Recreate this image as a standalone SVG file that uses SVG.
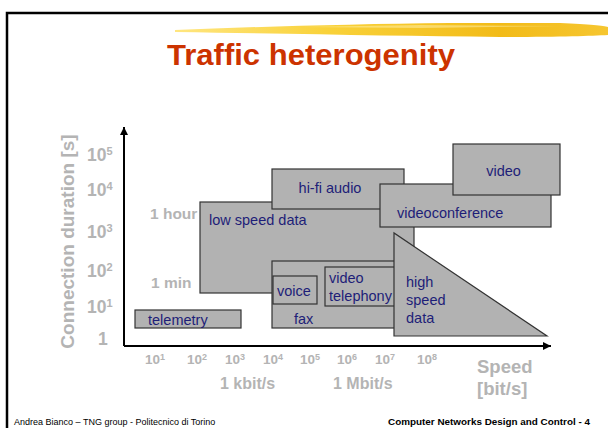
<svg xmlns="http://www.w3.org/2000/svg" width="608" height="429" viewBox="0 0 608 429">
<style>
.box{fill:#b2b2b2;stroke:#333;stroke-width:1.2}
.t{font-family:"Liberation Sans",Arial,sans-serif;font-size:14.5px;fill:#1e1e78}
.g{font-family:"Liberation Sans",Arial,sans-serif;font-weight:bold;fill:#b4b4b4}
.ax{stroke:#000;stroke-width:2;fill:none}
</style>
<defs>
<linearGradient id="brush" x1="0" y1="0" x2="1" y2="0">
<stop offset="0" stop-color="#ffe680"/>
<stop offset="0.35" stop-color="#f9d23a"/>
<stop offset="0.75" stop-color="#f2bb18"/>
<stop offset="1" stop-color="#f6c630"/>
</linearGradient>
<marker id="arr" viewBox="0 0 10 10" refX="10" refY="5" markerWidth="4" markerHeight="4" orient="auto" markerUnits="strokeWidth">
<path d="M0,0 L10,5 L0,10 Z" fill="#000"/>
</marker>
</defs>
<rect width="608" height="429" fill="#fff"/>
<path d="M175,30 C250,27 350,24 450,23 L560,23 C590,24 604,26 608,27 L608,35 C590,36 560,37 500,37 C400,36 300,34 175,32 Z" fill="url(#brush)"/>
<path d="M300,27 L420,25 L560,26 L420,28 Z" fill="#fff2b0" opacity="0.5"/>
<path d="M7,428 V13 H608" stroke="#000" stroke-width="2.5" fill="none"/>
<text x="167" y="65" font-family="Liberation Sans,Arial,sans-serif" font-weight="bold" font-size="30" fill="#cc3300" textLength="288" lengthAdjust="spacingAndGlyphs">Traffic heterogenity</text>

<g id="telemetry"><rect class="box" x="135" y="310" width="106" height="18"/><text class="t" x="148" y="325">telemetry</text></g>
<g id="low-speed-data"><rect class="box" x="200" y="202" width="214" height="91"/><text class="t" x="209" y="225">low speed data</text></g>
<g id="hifi-audio"><rect class="box" x="272" y="169" width="132" height="40"/><text class="t" x="330" y="193" text-anchor="middle">hi-fi audio</text></g>
<g id="videoconference"><rect class="box" x="380" y="184" width="171" height="43"/><text class="t" x="397" y="218">videoconference</text></g>
<g id="video"><rect class="box" x="453" y="144" width="107" height="51"/><text class="t" x="503.5" y="176" text-anchor="middle">video</text></g>
<g id="fax"><rect class="box" x="272" y="261" width="138" height="67"/><text class="t" x="294" y="324">fax</text></g>
<g id="voice"><rect class="box" x="273" y="276" width="44" height="28"/><text class="t" x="277" y="296">voice</text></g>
<g id="video-telephony"><rect class="box" x="325" y="267" width="80" height="39"/><text class="t" x="329" y="283">video</text><text class="t" x="329" y="301">telephony</text></g>
<g id="high-speed-data"><path class="box" d="M394,233 L394,336 L547,336 Z"/><text class="t" x="406" y="287">high</text><text class="t" x="406" y="305">speed</text><text class="t" x="406" y="323">data</text></g>

<g id="connectors">
<line class="ax" x1="124" y1="346" x2="124" y2="127" marker-end="url(#arr)"/>
<line class="ax" x1="124" y1="346" x2="551" y2="346" marker-end="url(#arr)"/>
</g>

<g id="y-labels" class="g" font-size="17.5">
<text x="87" y="161">10<tspan font-size="11" dy="-6">5</tspan></text>
<text x="87" y="196">10<tspan font-size="11" dy="-6">4</tspan></text>
<text x="87" y="238">10<tspan font-size="11" dy="-6">3</tspan></text>
<text x="87" y="277">10<tspan font-size="11" dy="-6">2</tspan></text>
<text x="87" y="313">10<tspan font-size="11" dy="-6">1</tspan></text>
<text x="98" y="345">1</text>
<text x="150" y="219" font-size="15.5">1 hour</text>
<text x="151" y="288" font-size="15.5">1 min</text>
<text transform="translate(74,241.5) rotate(-90)" text-anchor="middle" font-size="19">Connection duration [s]</text>
</g>
<g id="x-labels" class="g" font-size="13.5">
<text x="145" y="364">10<tspan font-size="9" dy="-4">1</tspan></text>
<text x="187" y="364">10<tspan font-size="9" dy="-4">2</tspan></text>
<text x="225" y="364">10<tspan font-size="9" dy="-4">3</tspan></text>
<text x="263" y="364">10<tspan font-size="9" dy="-4">4</tspan></text>
<text x="300" y="364">10<tspan font-size="9" dy="-4">5</tspan></text>
<text x="337" y="364">10<tspan font-size="9" dy="-4">6</tspan></text>
<text x="375" y="364">10<tspan font-size="9" dy="-4">7</tspan></text>
<text x="417" y="364">10<tspan font-size="9" dy="-4">8</tspan></text>
<text x="220" y="389" font-size="16">1 kbit/s</text>
<text x="333" y="389" font-size="16">1 Mbit/s</text>
<text x="477" y="373" font-size="18.5">Speed</text>
<text x="477" y="395" font-size="18.5">[bit/s]</text>
</g>
<text x="14" y="425" font-family="Liberation Sans,Arial,sans-serif" font-size="9" fill="#000">Andrea Bianco – TNG group - Politecnico di Torino</text>
<text x="590" y="425" text-anchor="end" font-family="Liberation Sans,Arial,sans-serif" font-weight="bold" font-size="9.9" fill="#000">Computer Networks Design and Control - 4</text>
</svg>
